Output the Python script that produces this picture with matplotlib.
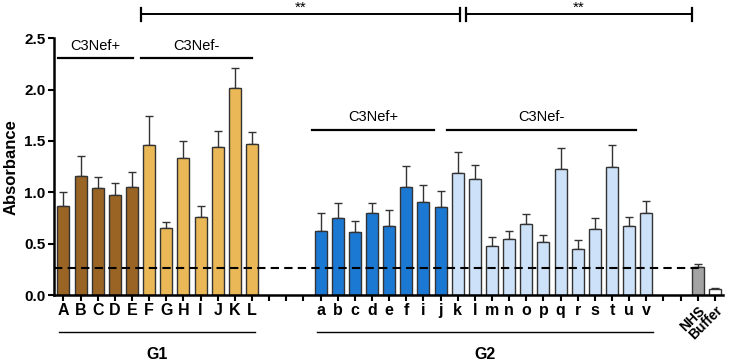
import numpy as np
import matplotlib.pyplot as plt

plt.rcParams['font.family'] = ['Liberation Sans', 'DejaVu Sans']

# sample labels and absorbance values (mean, upper SD)
g1_pos_labels = ['A', 'B', 'C', 'D', 'E']
g1_pos_vals = [0.87, 1.16, 1.04, 0.97, 1.05]
g1_pos_err = [0.13, 0.19, 0.11, 0.12, 0.15]

g1_neg_labels = ['F', 'G', 'H', 'I', 'J', 'K', 'L']
g1_neg_vals = [1.46, 0.65, 1.33, 0.76, 1.44, 2.01, 1.47]
g1_neg_err = [0.28, 0.06, 0.17, 0.11, 0.16, 0.20, 0.12]

g2_pos_labels = ['a', 'b', 'c', 'd', 'e', 'f', 'i', 'j']
g2_pos_vals = [0.62, 0.75, 0.61, 0.80, 0.67, 1.05, 0.91, 0.86]
g2_pos_err = [0.18, 0.15, 0.11, 0.10, 0.16, 0.21, 0.16, 0.155]

g2_neg_labels = ['k', 'l', 'm', 'n', 'o', 'p', 'q', 'r', 's', 't', 'u', 'v']
g2_neg_vals = [1.19, 1.13, 0.48, 0.55, 0.69, 0.52, 1.23, 0.45, 0.64, 1.25, 0.67, 0.80]
g2_neg_err = [0.20, 0.14, 0.09, 0.07, 0.10, 0.06, 0.20, 0.09, 0.11, 0.21, 0.09, 0.12]

ctrl_labels = ['NHS', 'Buffer']
ctrl_vals = [0.27, 0.06]
ctrl_err = [0.03, 0.01]

cutoff = 0.26

fig = plt.figure(figsize=(7.3, 3.63), dpi=100)
ax = fig.add_axes([0.074, 0.187, 0.917, 0.708])

width = 0.7
groups = [
    (0, g1_pos_labels, g1_pos_vals, g1_pos_err, ['#9a6425']),
    (5, g1_neg_labels, g1_neg_vals, g1_neg_err, ['#eab857']),
    (15, g2_pos_labels, g2_pos_vals, g2_pos_err, ['#1c79d3']),
    (23, g2_neg_labels, g2_neg_vals, g2_neg_err, ['#cde1f8']),
    (37, ctrl_labels, ctrl_vals, ctrl_err, ['#a3a3a3', 'white']),
]
tick_pos = list(range(39))
tick_lab = [''] * 39
for start, labs, vals, errs, cols in groups:
    x = np.arange(start, start + len(labs))
    if len(cols) == 1:
        cols = cols * len(labs)
    ax.bar(x, vals, width, color=cols, edgecolor='#333333', linewidth=1.0, zorder=2)
    ax.errorbar(x, vals, yerr=[np.zeros(len(vals)), errs], fmt='none',
                ecolor='#333333', elinewidth=1.0, capsize=3, capthick=1.0, zorder=1)
    for xi, l in zip(x, labs):
        tick_lab[xi] = l

ax.plot([-0.55, 37.3], [cutoff, cutoff], color='black', lw=1.5, ls=(0, (4, 2.5)), zorder=3)

ax.set_xlim(-0.55, 38.5)
ax.set_ylim(0, 2.5)
ax.set_yticks([0, 0.5, 1.0, 1.5, 2.0, 2.5])
ax.set_yticklabels(['0.0', '0.5', '1.0', '1.5', '2.0', '2.5'], fontweight='bold', fontsize=11)
ax.set_xticks(tick_pos)
ax.set_xticklabels(tick_lab, fontweight='bold', fontsize=11.5)
for t in ax.get_xticklabels()[37:]:
    t.set_rotation(45)
    t.set_fontsize(10)
    t.set_ha('right')
    t.set_va('top')
    t.set_rotation_mode('anchor')
ax.set_ylabel('Absorbance', fontweight='bold', fontsize=12, labelpad=4)
ax.spines['top'].set_visible(False)
ax.spines['right'].set_visible(False)
ax.spines['left'].set_linewidth(1.8)
ax.spines['bottom'].set_linewidth(1.8)
ax.tick_params(axis='both', width=1.5, length=4, pad=2)

# C3Nef subgroup lines
def sub_line(x0, x1, y, text):
    ax.plot([x0, x1], [y, y], color='black', lw=1.6, clip_on=False)
    ax.text((x0 + x1) / 2, y + 0.05, text, ha='center', va='bottom', fontsize=10.5)

sub_line(-0.3, 4.05, 2.31, 'C3Nef+')
sub_line(4.5, 11.0, 2.31, 'C3Nef-')
sub_line(14.5, 21.6, 1.61, 'C3Nef+')
sub_line(22.4, 33.4, 1.61, 'C3Nef-')

# significance brackets above the plot
yb = 2.73
for x0, x1 in [(4.5, 23.15), (23.5, 36.65)]:
    ax.plot([x0, x1], [yb, yb], color='black', lw=1.4, clip_on=False)
    for xe in (x0, x1):
        ax.plot([xe, xe], [yb - 0.06, yb + 0.06], color='black', lw=1.6, clip_on=False)
    ax.annotate('**', xy=((x0 + x1) / 2, 0.997), xycoords=('data', 'figure fraction'),
                ha='center', va='top', fontsize=11)

# G1 / G2 group lines below the axis
trans = ax.get_xaxis_transform()
for x0, x1, lab in [(-0.25, 11.2, 'G1'), (14.8, 34.4, 'G2')]:
    ax.plot([x0, x1], [-0.145, -0.145], color='black', lw=1.0, transform=trans, clip_on=False)
    ax.text((x0 + x1) / 2, -0.2, lab, ha='center', va='top', fontsize=11.5,
            fontweight='bold', transform=trans)

fig.savefig('out.png', dpi=100)
